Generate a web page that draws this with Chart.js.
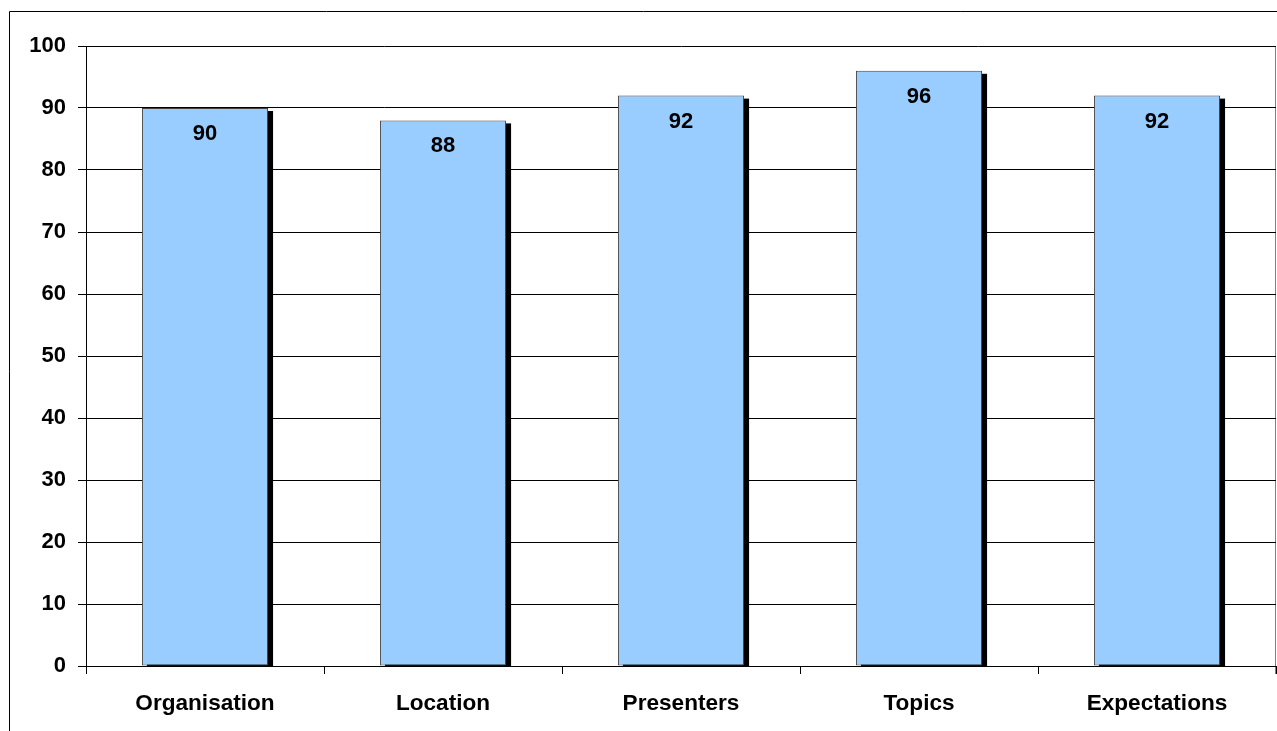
<!DOCTYPE html>
<html>
<head>
<meta charset="utf-8">
<script src="https://cdn.jsdelivr.net/npm/chart.js@4"></script>
<style>
html,body{margin:0;padding:0;background:#fff;overflow:hidden;}
#wrap{position:absolute;left:0;top:0;width:1277px;height:731px;}
</style>
</head>
<body>
<div id="wrap"><canvas id="c" width="1277" height="731"></canvas></div>
<script>
const categories = ["Organisation", "Location", "Presenters", "Topics", "Expectations"];
const values = [90, 88, 92, 96, 92];
const yTicks = [0, 10, 20, 30, 40, 50, 60, 70, 80, 90, 100];

const FONT = "'Liberation Sans', Arial, sans-serif";

const frame = {
  id: 'frame',
  beforeDraw(chart) {
    const ctx = chart.ctx;
    ctx.save();
    ctx.strokeStyle = '#000';
    ctx.lineWidth = 1;
    ctx.beginPath();
    ctx.moveTo(9.5, 740);
    ctx.lineTo(9.5, 11.5);
    ctx.lineTo(1290, 11.5);
    ctx.stroke();
    const a = chart.chartArea;
    ctx.strokeStyle = '#808080';
    ctx.beginPath();
    ctx.moveTo(a.right - 0.5, a.top);
    ctx.lineTo(a.right - 0.5, a.bottom + 8);
    ctx.stroke();
    ctx.restore();
  }
};

const shadows = {
  id: 'shadows',
  beforeDatasetsDraw(chart) {
    const ctx = chart.ctx;
    const a = chart.chartArea;
    const meta = chart.getDatasetMeta(0);
    ctx.save();
    ctx.beginPath();
    ctx.rect(a.left, a.top, a.right - a.left, a.bottom - a.top);
    ctx.clip();
    ctx.fillStyle = '#000';
    meta.data.forEach(bar => {
      const p = bar.getProps(['x', 'y', 'base', 'width'], true);
      ctx.fillRect(p.x - p.width / 2 + 5, p.y + 3, p.width, p.base - p.y);
    });
    ctx.restore();
  }
};

const valueLabels = {
  id: 'valueLabels',
  afterDatasetsDraw(chart) {
    const ctx = chart.ctx;
    const meta = chart.getDatasetMeta(0);
    ctx.save();
    ctx.fillStyle = '#000';
    ctx.font = "bold 22px " + FONT;
    ctx.textAlign = 'center';
    ctx.textBaseline = 'middle';
    meta.data.forEach((bar, i) => {
      const p = bar.getProps(['x', 'y'], true);
      ctx.fillText(String(values[i]), p.x, p.y + 26);
    });
    ctx.restore();
  }
};

new Chart(document.getElementById('c'), {
  type: 'bar',
  data: {
    labels: categories,
    datasets: [{
      data: values,
      backgroundColor: '#99CCFF',
      borderColor: '#404040',
      borderWidth: 1,
      borderSkipped: false,
      categoryPercentage: 1,
      barPercentage: 0.53,
      clip: 0
    }]
  },
  options: {
    responsive: false,
    animation: false,
    devicePixelRatio: 1,
    layout: { padding: { left: 0, top: 46, right: 1, bottom: 0 } },
    plugins: { legend: { display: false }, tooltip: { enabled: false } },
    scales: {
      x: {
        offset: true,
        afterFit(s) { s.height = 65; },
        grid: { offset: true, drawOnChartArea: false, color: '#000', tickLength: 8, tickColor: '#000' },
        border: { display: true, color: '#000' },
        ticks: { color: '#000', font: { family: FONT, size: 22.6, weight: 'bold' }, padding: 16, maxRotation: 0 }
      },
      y: {
        min: 0, max: 100,
        afterFit(s) { s.width = 86; },
        afterBuildTicks(s) { s.ticks = yTicks.map(v => ({ value: v })); },
        grid: { color: '#000', tickLength: 8, tickColor: '#000' },
        border: { display: true, color: '#000' },
        ticks: { color: '#000', font: { family: FONT, size: 22, weight: 'bold' }, padding: 12 }
      }
    }
  },
  plugins: [frame, shadows, valueLabels]
});
</script>
</body>
</html>
